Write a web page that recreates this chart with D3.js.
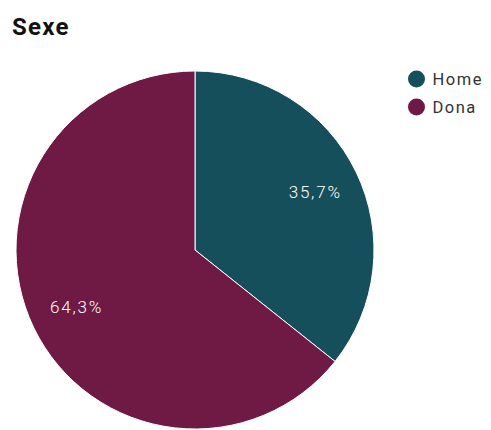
<!DOCTYPE html>
<html>
<head>
<meta charset="utf-8">
<script src="https://cdn.jsdelivr.net/npm/d3@7/dist/d3.min.js"></script>
<style>
  html, body { margin: 0; padding: 0; background: #fff; }
  svg { display: block; font-family: Roboto, "Noto Sans", sans-serif; }
</style>
</head>
<body>
<svg id="chart" width="491" height="430"></svg>
<script>
const title = "Sexe";
const categories = ["Home", "Dona"];
const values = [35.7, 64.3];
const colors = ["#164f5c", "#6f1a45"];

const svg = d3.select("#chart");
const cx = 195, cy = 250, radius = 179;

svg.append("text")
  .attr("x", 12).attr("y", 35)
  .attr("font-size", 24).attr("font-weight", "bold")
  .attr("letter-spacing", 1.3)
  .attr("fill", "#111")
  .text(title);

const data = categories.map((c, i) => ({ label: c, value: values[i], color: colors[i] }));

const pie = d3.pie().value(d => d.value).sort(null);
const arc = d3.arc().innerRadius(0).outerRadius(radius);
const labelArc = d3.arc().innerRadius(radius * 0.74).outerRadius(radius * 0.74);

const g = svg.append("g").attr("transform", `translate(${cx},${cy})`);
const arcs = pie(data);

g.selectAll("path").data(arcs).join("path")
  .attr("d", arc)
  .attr("fill", d => d.data.color)
  .attr("stroke", "#fff")
  .attr("stroke-width", 1);

// percentage labels with a decimal comma
const fmt = v => v.toFixed(1).replace(".", ",") + "%";
const ls = 1.8;
g.selectAll("text.lbl").data(arcs).join("text")
  .attr("class", "lbl")
  .attr("transform", d => {
    const [x, y] = labelArc.centroid(d);
    return `translate(${x + ls / 2},${y})`;
  })
  .attr("text-anchor", "middle")
  .attr("dy", "0.35em")
  .attr("font-size", 17)
  .attr("font-weight", 300)
  .attr("letter-spacing", ls)
  .attr("fill", "#fff")
  .text(d => fmt(d.data.value));

const legend = svg.append("g").attr("transform", "translate(416.5,79)");
const item = legend.selectAll("g").data(data).join("g")
  .attr("transform", (d, i) => `translate(0,${i * 28})`);
item.append("circle").attr("r", 8.5).attr("fill", d => d.color);
item.append("text")
  .attr("x", 16).attr("y", 6)
  .attr("font-size", 16.5).attr("letter-spacing", 1.5)
  .attr("fill", "#333")
  .text(d => d.label);
</script>
</body>
</html>
